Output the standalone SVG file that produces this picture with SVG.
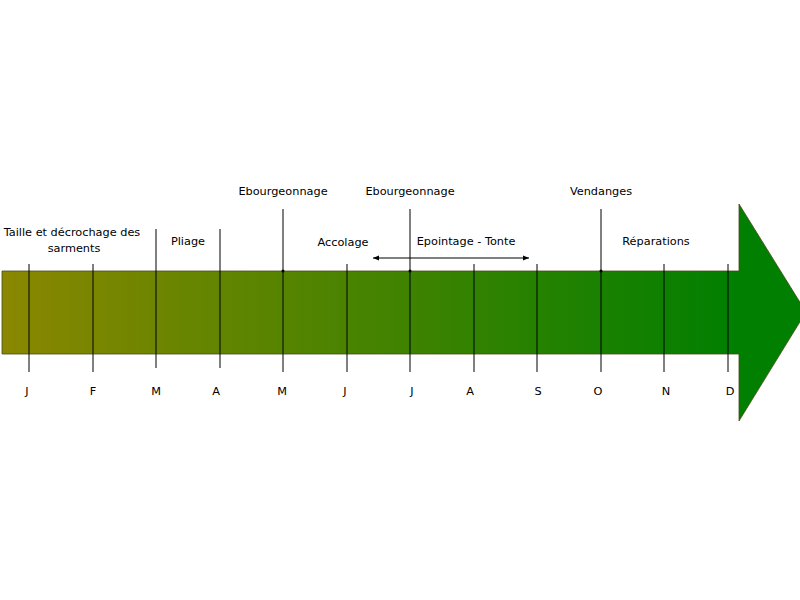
<svg xmlns="http://www.w3.org/2000/svg" width="800" height="600" viewBox="0 0 800 600">
<defs>
<linearGradient id="g" gradientUnits="userSpaceOnUse" x1="2" y1="0" x2="739" y2="0">
<stop offset="0" stop-color="#8b8700"/>
<stop offset="1" stop-color="#007f00"/>
</linearGradient>
<marker id="ah" viewBox="0 0 10 10" refX="10" refY="5" markerWidth="6" markerHeight="6" orient="auto-start-reverse" markerUnits="userSpaceOnUse">
<path d="M0,1 L10,5 L0,9 z" fill="#000"/>
</marker>
<style>
.t{font-family:"Comic Sans MS","DejaVu Sans","Liberation Sans",sans-serif;font-size:11.3px;fill:#000;text-anchor:middle}
.tk{stroke:#000;stroke-width:1}
</style>
</defs>
<rect width="800" height="600" fill="#fff"/>
<g id="arrow">
<path d="M2,271 L739,271 L739,204 L806,312 L739,421 L739,354 L2,354 Z" fill="url(#g)" stroke="#4a4a1a" stroke-width="0.8"/>
</g>
<g id="connectors">
<line class="tk" x1="29" y1="264" x2="29" y2="372"/>
<line class="tk" x1="93" y1="264" x2="93" y2="372"/>
<line class="tk" x1="156" y1="229" x2="156" y2="368"/>
<line class="tk" x1="220" y1="229" x2="220" y2="368"/>
<line class="tk" x1="283" y1="209" x2="283" y2="372"/>
<line class="tk" x1="347" y1="264" x2="347" y2="372"/>
<line class="tk" x1="410" y1="209" x2="410" y2="372"/>
<line class="tk" x1="474" y1="264" x2="474" y2="372"/>
<line class="tk" x1="537" y1="264" x2="537" y2="372"/>
<line class="tk" x1="601" y1="209" x2="601" y2="372"/>
<line class="tk" x1="664" y1="264" x2="664" y2="372"/>
<line class="tk" x1="728" y1="264" x2="728" y2="372"/>
<circle cx="283" cy="271" r="1.5"/>
<circle cx="410" cy="271" r="1.5"/>
<circle cx="601" cy="271" r="1.5"/>
<line class="tk" x1="373" y1="258" x2="529" y2="258" marker-start="url(#ah)" marker-end="url(#ah)"/>
</g>
<g id="labels">
<text class="t" x="72" y="236">Taille et décrochage des</text>
<text class="t" x="74" y="252">sarments</text>
<text class="t" x="188" y="245">Pliage</text>
<text class="t" x="283" y="195">Ebourgeonnage</text>
<text class="t" x="343" y="246">Accolage</text>
<text class="t" x="410" y="195">Ebourgeonnage</text>
<text class="t" x="466" y="245">Epointage - Tonte</text>
<text class="t" x="601" y="195">Vendanges</text>
<text class="t" x="656" y="245">Réparations</text>
</g>
<g id="months">
<text class="t" x="27" y="395">J</text>
<text class="t" x="93" y="395">F</text>
<text class="t" x="156" y="395">M</text>
<text class="t" x="216" y="395">A</text>
<text class="t" x="282" y="395">M</text>
<text class="t" x="345" y="395">J</text>
<text class="t" x="412" y="395">J</text>
<text class="t" x="470" y="395">A</text>
<text class="t" x="538" y="395">S</text>
<text class="t" x="598" y="395">O</text>
<text class="t" x="666" y="395">N</text>
<text class="t" x="730" y="395">D</text>
</g>
</svg>
